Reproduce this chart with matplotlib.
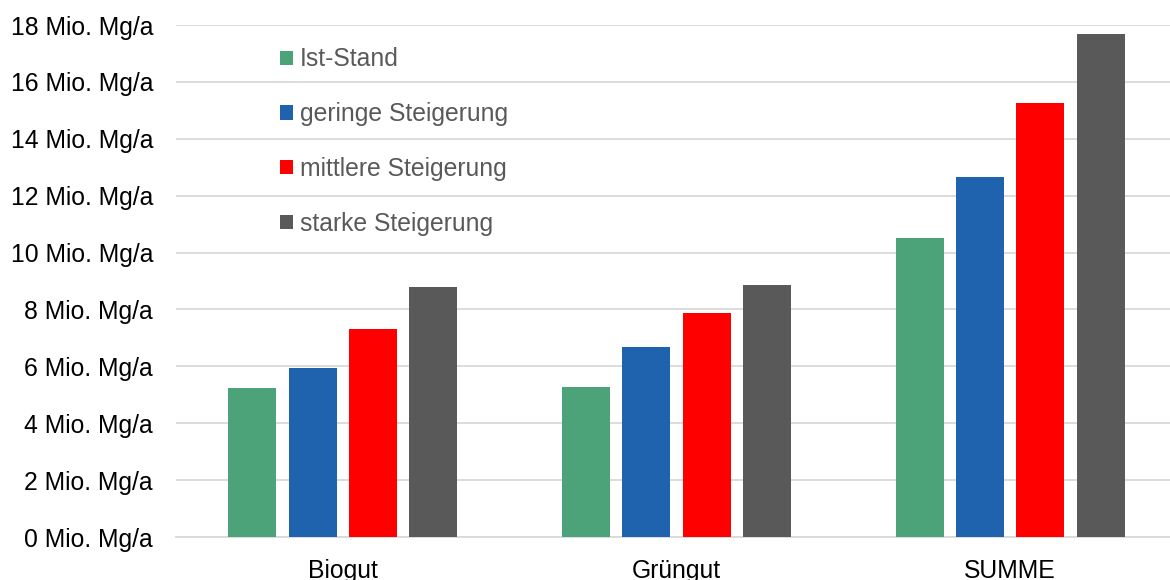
import numpy as np
import matplotlib.pyplot as plt
from matplotlib.patches import Patch

plt.rcParams['font.family'] = ['Liberation Sans', 'DejaVu Sans']

# Mengen in Mio. Mg/a
kategorien = ['Biogut', 'Grüngut', 'SUMME']
szenarien = ['Ist-Stand', 'geringe Steigerung', 'mittlere Steigerung', 'starke Steigerung']
ist_stand = [5.24, 5.26, 10.51]
gering = [5.94, 6.68, 12.66]
mittel = [7.31, 7.88, 15.26]
stark = [8.79, 8.86, 17.70]
farben = ['#4ca37a', '#1f63ae', '#ff0000', '#595959']
yticks = list(range(0, 19, 2))

fig = plt.figure(figsize=(11.7, 5.8), dpi=100)
ax = fig.add_axes([176 / 1170, 43 / 580, 1001 / 1170, 512 / 580])

x = np.arange(len(kategorien))
step = 0.181
width = 0.144
for i, (werte, farbe) in enumerate(zip([ist_stand, gering, mittel, stark], farben)):
    ax.bar(x + (i - 1.5) * step, werte, width=width, color=farbe, zorder=3)

ax.set_xlim(-0.5, 2.5)
ax.set_ylim(0, 18)
ax.set_yticks(yticks)
ax.set_yticklabels([f'{v} Mio. Mg/a' for v in yticks], fontsize=17.8)
ax.set_xticks(x)
ax.set_xticklabels(kategorien, fontsize=17.8)
ax.tick_params(axis='both', length=0, colors='black')
ax.tick_params(axis='y', pad=16.5)
ax.tick_params(axis='x', pad=15.5)

ax.grid(axis='y', color='#d9d9d9', linewidth=1.3, zorder=0)
ax.set_axisbelow(True)
for s in ['top', 'right', 'left']:
    ax.spines[s].set_visible(False)
ax.spines['bottom'].set_color('#d9d9d9')
ax.spines['bottom'].set_linewidth(1.3)

handles = [Patch(facecolor=f, edgecolor='none') for f in farben]
leg = ax.legend(handles, szenarien, loc='upper left',
                bbox_to_anchor=(268 / 1170, 1 - 35 / 580), bbox_transform=fig.transFigure,
                frameon=False, fontsize=17.8, handlelength=0.5, handleheight=0.5,
                handletextpad=0.3, labelspacing=1.25, borderpad=0)
for t in leg.get_texts():
    t.set_color('#595959')

fig.savefig('out.png', dpi=100, facecolor='white')
